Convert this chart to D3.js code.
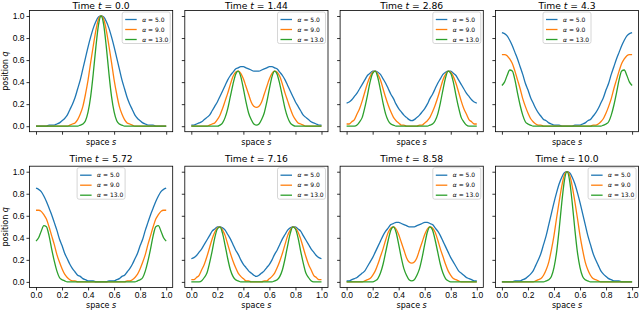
<!DOCTYPE html>
<html>
<head>
	<title>Wave profiles</title>
	<meta charset='utf-8'>
	<style>
		body { margin: 0; background: #fff; }
		svg { font-family: 'DejaVu Sans', sans-serif; }
		.tick text { fill: #000; font-size: 8.5px; }
		.tick line { stroke: #000; stroke-width: 0.8px; }
		.frame { fill: none; stroke: #000; stroke-width: 0.8px; }
		.curve { fill: none; stroke-width: 1.3px; }
		.title { font-size: 9.2px; fill: #000; }
		.label { font-size: 8px; fill: #000; }
		.legend rect { fill: #fff; fill-opacity: 0.8; stroke: #ccc; stroke-width: 0.8px; }
		.legend text { font-size: 6px; fill: #000; }
	</style>
</head>
<body>

<script src='https://d3js.org/d3.v7.min.js'></script>
<script>
	'use strict';

	// подписи и параметры
	const times = ['0.0', '1.44', '2.86', '4.3', '5.72', '7.16', '8.58', '10.0'];
	const alphas = ['5.0', '9.0', '13.0'];
	const ticks = [0, 0.2, 0.4, 0.6, 0.8, 1.0];
	const space = [0, 0.02, 0.04, 0.06, 0.08, 0.1, 0.12, 0.14, 0.16, 0.18, 0.2, 0.22, 0.24, 0.26, 0.28, 0.3, 0.32, 0.34, 0.36, 0.38, 0.4,
		0.42, 0.44, 0.46, 0.48, 0.5, 0.52, 0.54, 0.56, 0.58, 0.6, 0.62, 0.64, 0.66, 0.68, 0.7, 0.72, 0.74, 0.76, 0.78, 0.8,
		0.82, 0.84, 0.86, 0.88, 0.9, 0.92, 0.94, 0.96, 0.98, 1.0];

	// профили q(s) (t = 0 / 10)
	const qA5 = [0,0,0,0,0,0.01,0.01,0.01,0.02,0.03,0.05,0.07,0.10,0.15,0.20,0.26,0.34,0.42,0.52,0.62,0.72,0.81,0.89,0.95,0.99,1.00,
		0.99,0.95,0.89,0.81,0.72,0.62,0.52,0.42,0.34,0.26,0.20,0.15,0.10,0.07,0.05,0.03,0.02,0.01,0.01,0.01,0,0,0,0,0];
	const qA9 = [0,0,0,0,0,0,0,0,0,0,0,0,0,0.01,0.02,0.03,0.06,0.11,0.18,0.29,0.42,0.58,0.73,0.87,0.97,1.00,
		0.97,0.87,0.73,0.58,0.42,0.29,0.18,0.11,0.06,0.03,0.02,0.01,0,0,0,0,0,0,0,0,0,0,0,0,0];
	const qA13 = [0,0,0,0,0,0,0,0,0,0,0,0,0,0,0,0,0,0.01,0.02,0.05,0.13,0.27,0.48,0.72,0.92,1.00,
		0.92,0.72,0.48,0.27,0.13,0.05,0.02,0.01,0,0,0,0,0,0,0,0,0,0,0,0,0,0,0,0,0];
	// t = 1.44 / 8.58
	const qB5 = [0.01,0.01,0.02,0.03,0.04,0.06,0.08,0.10,0.14,0.18,0.22,0.27,0.32,0.37,0.42,0.46,0.49,0.52,0.53,0.54,0.54,0.53,0.52,0.51,0.50,0.50,
		0.50,0.51,0.52,0.53,0.54,0.54,0.53,0.52,0.49,0.46,0.42,0.37,0.32,0.27,0.22,0.18,0.14,0.10,0.08,0.06,0.04,0.03,0.02,0.01,0.01];
	const qB9 = [0,0,0,0,0,0,0,0.01,0.02,0.03,0.06,0.10,0.16,0.23,0.30,0.38,0.45,0.49,0.50,0.48,0.43,0.36,0.29,0.22,0.18,0.17,
		0.18,0.22,0.29,0.36,0.43,0.48,0.50,0.49,0.45,0.38,0.30,0.23,0.16,0.10,0.06,0.03,0.02,0.01,0,0,0,0,0,0,0];
	const qB13 = [0,0,0,0,0,0,0,0,0,0,0,0.01,0.03,0.08,0.16,0.27,0.38,0.47,0.50,0.45,0.34,0.22,0.12,0.06,0.02,0.01,
		0.02,0.06,0.12,0.22,0.34,0.45,0.50,0.47,0.38,0.27,0.16,0.08,0.03,0.01,0,0,0,0,0,0,0,0,0,0,0];
	// t = 2.86 / 7.16
	const qC5 = [0.21,0.22,0.24,0.27,0.30,0.34,0.38,0.42,0.46,0.48,0.50,0.50,0.49,0.47,0.43,0.39,0.34,0.29,0.25,0.20,0.16,0.13,0.10,0.08,0.06,0.05,
		0.06,0.08,0.10,0.13,0.16,0.20,0.25,0.29,0.34,0.39,0.43,0.47,0.49,0.50,0.50,0.48,0.46,0.42,0.38,0.34,0.30,0.27,0.24,0.22,0.21];
	const qC9 = [0.02,0.02,0.04,0.06,0.11,0.16,0.23,0.31,0.39,0.45,0.49,0.50,0.47,0.42,0.34,0.26,0.19,0.13,0.08,0.05,0.03,0.01,0.01,0,0,0,
		0,0,0.01,0.01,0.03,0.05,0.08,0.13,0.19,0.26,0.34,0.42,0.47,0.50,0.49,0.45,0.39,0.31,0.23,0.16,0.11,0.06,0.04,0.02,0.02];
	const qC13 = [0,0,0,0,0.01,0.04,0.08,0.17,0.28,0.40,0.48,0.50,0.44,0.33,0.21,0.11,0.05,0.02,0.01,0,0,0,0,0,0,0,
		0,0,0,0,0,0,0.01,0.02,0.05,0.11,0.21,0.33,0.44,0.50,0.48,0.40,0.28,0.17,0.08,0.04,0.01,0,0,0,0];
	// t = 4.3 / 5.72
	const qD5 = [0.85,0.84,0.82,0.78,0.73,0.67,0.61,0.54,0.47,0.39,0.33,0.26,0.21,0.16,0.12,0.09,0.06,0.05,0.03,0.02,0.01,0.01,0.01,0,0,0,
		0,0,0.01,0.01,0.01,0.02,0.03,0.05,0.06,0.09,0.12,0.16,0.21,0.26,0.33,0.39,0.47,0.54,0.61,0.67,0.73,0.78,0.82,0.84,0.85];
	const qD9 = [0.65,0.65,0.64,0.61,0.57,0.50,0.42,0.34,0.25,0.18,0.12,0.07,0.04,0.02,0.01,0.01,0,0,0,0,0,0,0,0,0,0,
		0,0,0,0,0,0,0,0,0,0.01,0.01,0.02,0.04,0.07,0.12,0.18,0.25,0.34,0.42,0.50,0.57,0.61,0.64,0.65,0.65];
	const qD13 = [0.37,0.40,0.46,0.51,0.50,0.42,0.30,0.19,0.10,0.04,0.02,0.01,0,0,0,0,0,0,0,0,0,0,0,0,0,0,
		0,0,0,0,0,0,0,0,0,0,0,0,0,0.01,0.02,0.04,0.10,0.19,0.30,0.42,0.50,0.51,0.46,0.40,0.37];

	const panels = [
		[qA5, qA9, qA13], [qB5, qB9, qB13], [qC5, qC9, qC13], [qD5, qD9, qD13],
		[qD5, qD9, qD13], [qC5, qC9, qC13], [qB5, qB9, qB13], [qA5, qA9, qA13]
	];
	const legendCenter = [false, false, false, true, true, false, false, false];
	const colors = ['#1f77b4', '#ff7f0e', '#2ca02c'];

	const colLeft = [29.5, 184.8, 340.1, 495.4];
	const rowTop = [10.5, 166.2];
	const titleOffset = [-2, -4.5];
	const axW = 143.2;
	const axH = 121.2;

	const svg = d3.select('body').append('svg')
		.attr('width', 640)
		.attr('height', 311);

	const xScale = d3.scaleLinear().domain([-0.05, 1.05]).range([0, axW]);
	const yScale = d3.scaleLinear().domain([-0.05, 1.05]).range([axH, 0]);

	const line = d3.line()
		.x(function(d) {return xScale(d[0]);})
		.y(function(d) {return yScale(d[1]);})
		.curve(d3.curveMonotoneX);

	panels.forEach(function(series, i) {
		const col = i % 4;
		const row = Math.floor(i / 4);
		const g = svg.append('g')
			.attr('transform', 'translate(' + colLeft[col] + ',' + rowTop[row] + ')');

		// оси
		const xAxis = d3.axisBottom(xScale).tickValues(ticks).tickSize(3).tickPadding(2)
			.tickFormat(row === 1 ? d3.format('.1f') : '');
		g.append('g')
			.attr('transform', 'translate(0,' + axH + ')')
			.call(xAxis)
			.call(function(a) {a.select('.domain').remove();});

		const yAxis = d3.axisLeft(yScale).tickValues(ticks).tickSize(3).tickPadding(2)
			.tickFormat(col === 0 ? d3.format('.1f') : '');
		g.append('g')
			.call(yAxis)
			.call(function(a) {a.select('.domain').remove();});

		// кривые
		series.forEach(function(vals, k) {
			g.append('path')
				.attr('class', 'curve')
				.attr('stroke', colors[k])
				.attr('d', line(space.map(function(s, j) {return [s, vals[j]];})));
		});

		g.append('rect')
			.attr('class', 'frame')
			.attr('width', axW)
			.attr('height', axH);

		// заголовок
		const title = g.append('text')
			.attr('class', 'title')
			.attr('x', axW / 2)
			.attr('y', titleOffset[row])
			.attr('text-anchor', 'middle');
		title.append('tspan').text('Time ');
		title.append('tspan').attr('font-style', 'italic').text('t');
		title.append('tspan').text(' = ' + times[i]);

		const xl = g.append('text')
			.attr('class', 'label')
			.attr('x', axW / 2)
			.attr('y', axH + (row === 1 ? 21 : 13))
			.attr('text-anchor', 'middle');
		xl.append('tspan').text('space ');
		xl.append('tspan').attr('font-style', 'italic').text('s');

		if (col === 0) {
			const yl = g.append('text')
				.attr('class', 'label')
				.attr('transform', 'translate(' + (8 - colLeft[col]) + ',' + (axH / 2) + ') rotate(-90)')
				.attr('text-anchor', 'middle');
			yl.append('tspan').text('position ');
			yl.append('tspan').attr('font-style', 'italic').text('q');
		}

		// легенда
		const legW = 48;
		const legH = 31.5;
		const lx = legendCenter[i] ? (axW - legW) / 2 : axW - legW - 2.5;
		const leg = g.append('g')
			.attr('class', 'legend')
			.attr('transform', 'translate(' + lx + ',1.5)');
		leg.append('rect')
			.attr('width', legW)
			.attr('height', legH)
			.attr('rx', 2);
		alphas.forEach(function(a, k) {
			const yy = 7.5 + k * 10;
			leg.append('line')
				.attr('x1', 3).attr('x2', 14.5)
				.attr('y1', yy).attr('y2', yy)
				.attr('stroke', colors[k])
				.attr('stroke-width', 1.3);
			const t = leg.append('text')
				.attr('x', 20)
				.attr('y', yy)
				.attr('dy', '0.35em');
			t.append('tspan').attr('font-style', 'italic').text('α');
			t.append('tspan').text(' = ' + a);
		});
	});
</script>
</body>
</html>
